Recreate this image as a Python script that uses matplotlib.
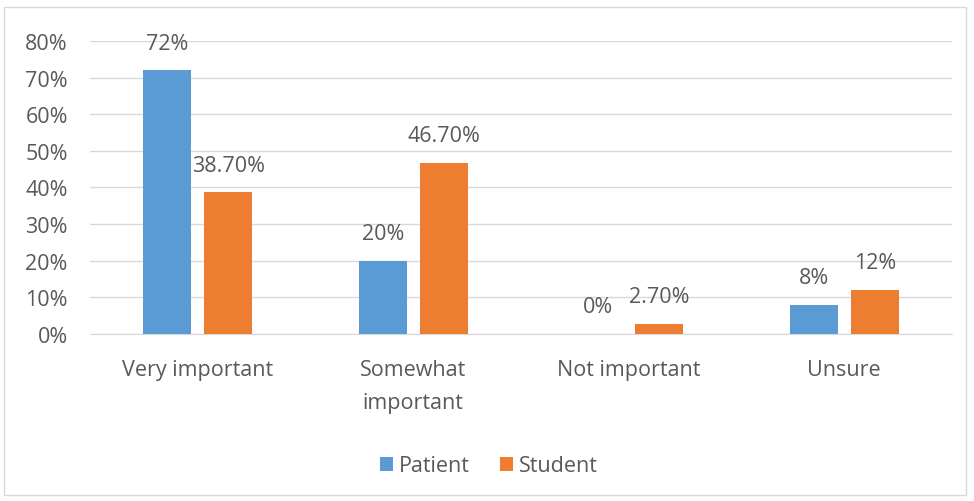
import matplotlib.pyplot as plt
import matplotlib.patches as mpatches
import numpy as np

categories = ["Very important", "Somewhat\nimportant", "Not important", "Unsure"]
patient = [72, 20, 0, 8]
student = [38.7, 46.7, 2.7, 12]
patient_labels = ["72%", "20%", "0%", "8%"]
student_labels = ["38.70%", "46.70%", "2.70%", "12%"]

BLUE = "#5b9bd5"
ORANGE = "#ed7d31"
TEXT = "#595959"
GRID = "#d9d9d9"
FS = 15.5

plt.rcParams['font.family'] = ['Open Sans', 'DejaVu Sans']

fig = plt.figure(figsize=(9.74, 5.02), dpi=100)
ax = fig.add_axes([0.0924, 0.3327, 0.885, 0.5837])

# outer chart frame
fig.patches.append(mpatches.Rectangle((0.004, 0.012), 0.988, 0.972, transform=fig.transFigure,
                                      fill=False, edgecolor=GRID, linewidth=1))

x = np.arange(len(categories))
width = 0.223
offset = 0.1415
b1 = ax.bar(x - offset, patient, width, color=BLUE, label="Patient", zorder=3)
b2 = ax.bar(x + offset, student, width, color=ORANGE, label="Student", zorder=3)

ax.bar_label(b1, labels=patient_labels, padding=12, fontsize=FS, color=TEXT)
ax.bar_label(b2, labels=student_labels, padding=12, fontsize=FS, color=TEXT)

ax.set_xlim(-0.5, len(categories) - 0.5)
ax.set_ylim(0, 80)
ax.set_yticks(range(0, 81, 10))
ax.set_yticklabels([f"{v}%" for v in range(0, 81, 10)])
ax.set_xticks(x)
ax.set_xticklabels(categories, linespacing=1.75)
ax.tick_params(axis='both', length=0, labelsize=FS, labelcolor=TEXT)
ax.tick_params(axis='y', pad=16)
ax.tick_params(axis='x', pad=18)
ax.grid(axis='y', color=GRID, linewidth=1, zorder=0)
for s in ax.spines.values():
    s.set_visible(False)
ax.spines['bottom'].set_visible(True)
ax.spines['bottom'].set_color(GRID)

fig.legend(handles=[b1, b2], loc='center', bbox_to_anchor=(0.502, 0.07), ncol=2, frameon=False,
           fontsize=FS, labelcolor=TEXT, handlelength=0.6, handleheight=0.6,
           handletextpad=0.3, columnspacing=1.4)

fig.savefig("out.png", dpi=100)
